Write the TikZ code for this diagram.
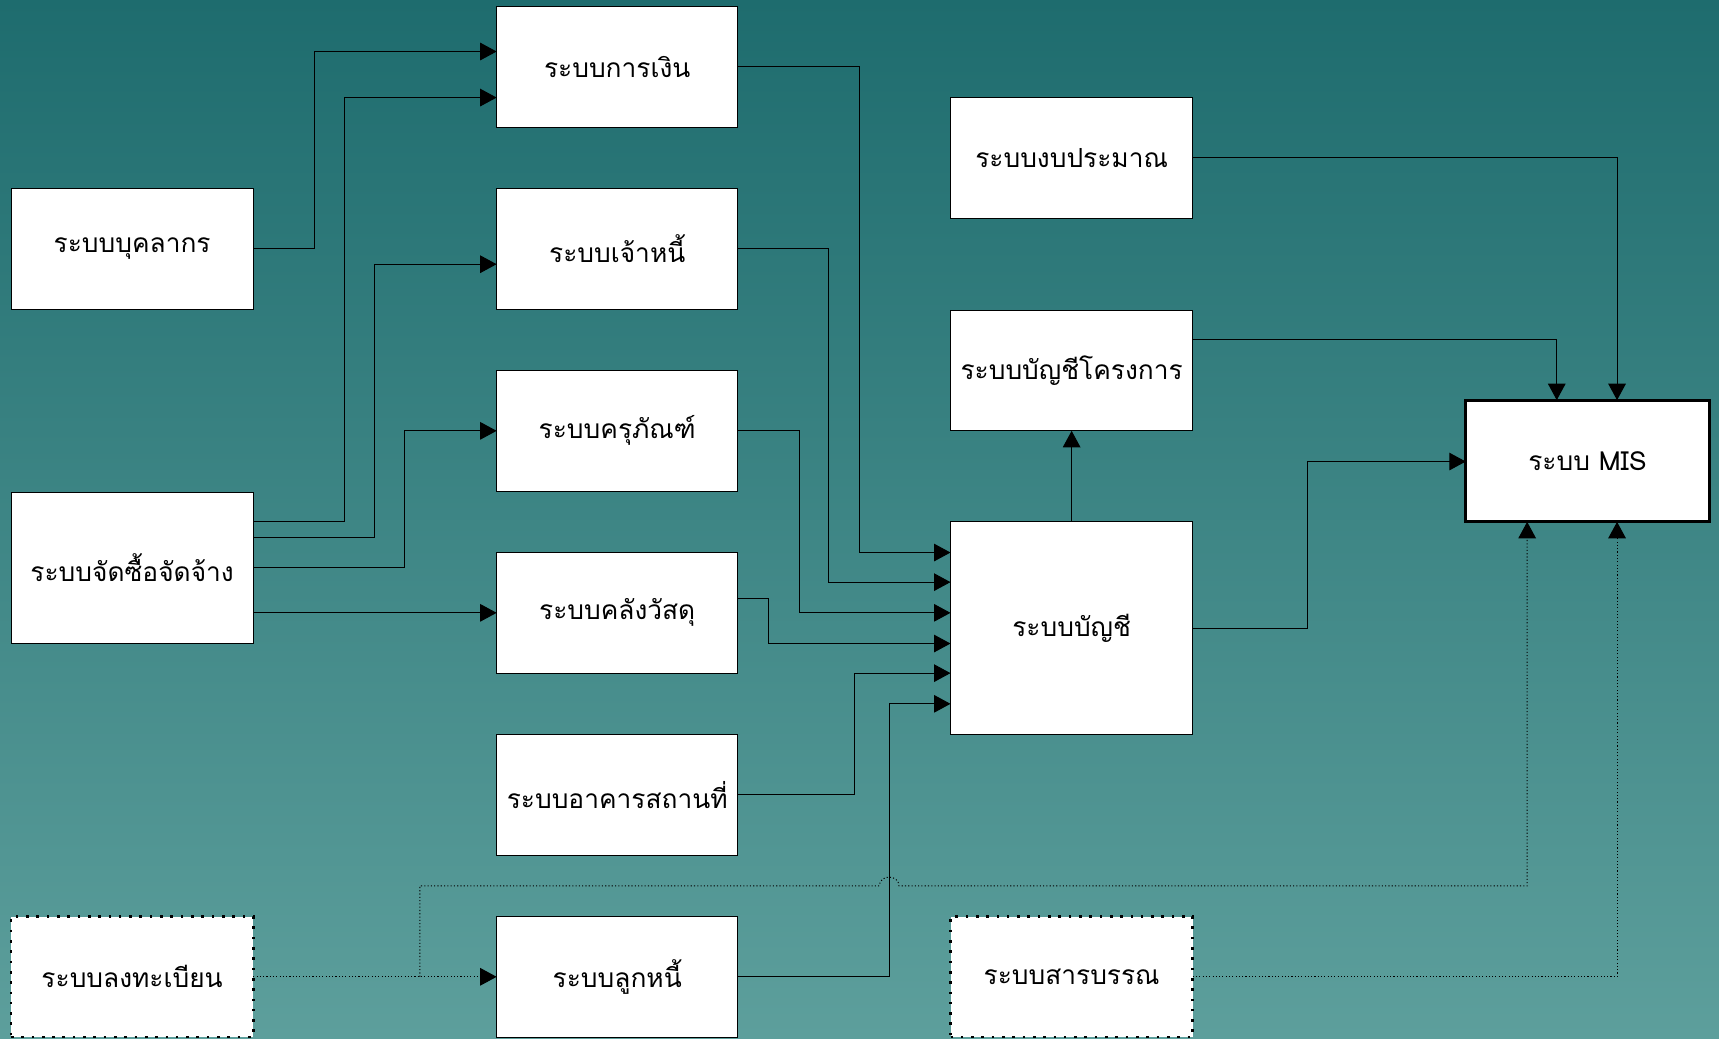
\documentclass[tikz,border=0pt]{standalone}
\usepackage{fontspec}
\newfontfamily\thaifont[Script=Thai]{Loma}
\usetikzlibrary{arrows.meta,positioning}
\definecolor{bgtop}{RGB}{30,108,110}
\definecolor{bgbottom}{RGB}{93,159,156}

\begin{document}
\begin{tikzpicture}[x=1pt, y=-1pt,
        every node/.style={font=\thaifont\fontsize{24}{28}\selectfont},
        sysbox/.style={draw, fill=white, line width=0.8pt, inner sep=0pt, outer sep=0pt,
                       minimum width=220pt, minimum height=110pt},
        extbox/.style={sysbox, line width=2.4pt, dash pattern=on 2.4pt off 7pt},
        misbox/.style={sysbox, line width=2.6pt},
        link/.style={line width=0.9pt, -{Triangle[length=15pt, width=16pt]}},
        weaklink/.style={link, dash pattern=on 1pt off 2pt}]
        \useasboundingbox (0,0) rectangle (1568,947);
        \fill [top color=bgtop, bottom color=bgbottom] (0,0) rectangle (1568,947);

        \node [sysbox] (fin) at (563,61) {ระบบการเงิน};
        \node [sysbox, below=56pt of fin] (ap) {ระบบเจ้าหนี้};
        \node [sysbox, below=56pt of ap] (asset) {ระบบครุภัณฑ์};
        \node [sysbox, below=56pt of asset] (stock) {ระบบคลังวัสดุ};
        \node [sysbox, below=56pt of stock] (bldg) {ระบบอาคารสถานที่};
        \node [sysbox, below=56pt of bldg] (ar) {ระบบลูกหนี้};

        \node [sysbox, minimum width=221pt] (hr) at (120.5,227) {ระบบบุคลากร};
        \node [sysbox, minimum width=221pt, minimum height=138pt] (proc) at (120.5,518) {ระบบจัดซื้อจัดจ้าง};
        \node [extbox, minimum width=221pt] (reg) at (120.5,891) {ระบบลงทะเบียน};

        \node [sysbox, minimum width=221pt] (budget) at (977.5,144) {ระบบงบประมาณ};
        \node [sysbox, minimum width=221pt, below=84pt of budget] (proj) {ระบบบัญชีโครงการ};
        \node [sysbox, minimum width=221pt, minimum height=194pt] (acc) at (977.5,573) {ระบบบัญชี};
        \node [extbox, minimum width=221pt] (doc) at (977.5,891) {ระบบสารบรรณ};

        \node [misbox, minimum width=222pt, minimum height=111pt] (mis) at (1448,420.5) {ระบบ MIS};

        \draw [link] (hr.east) -| (287,47) -- (fin.west |- 0,47);
        \draw [link] (proc.east |- 0,476) -| (314,89) -- (fin.west |- 0,89);
        \draw [link] (proc.east |- 0,490) -| (342,241) -- (ap.west |- 0,241);
        \draw [link] (proc.east |- 0,518) -| (369,393) -- (asset.west);
        \draw [link] (proc.east |- 0,559) -- (stock.west);

        \draw [link] (fin.east) -| (784,504) -- (acc.west |- 0,504);
        \draw [link] (ap.east) -| (756,531) -- (acc.west |- 0,531);
        \draw [link] (asset.east) -| (729,559) -- (acc.west |- 0,559);
        \draw [link] (stock.east |- 0,546) -| (701,587) -- (acc.west |- 0,587);
        \draw [link] (bldg.east) -| (779,614) -- (acc.west |- 0,614);
        \draw [link] (ar.east) -| (811,642) -- (acc.west |- 0,642);

        \draw [link] (acc.north) -- (proj.south);
        \draw [link] (acc.east) -| (1193,421) -- (mis.west |- 0,421);
        \draw [link] (budget.east) -| (mis.north -| 1475,0);
        \draw [link] (proj.east |- 0,310) -| (mis.north -| 1420,0);

        \coordinate (tap) at (reg.east -| 383,0);
        \draw [weaklink] (reg.east) -- (ar.west);
        \draw [weaklink] (tap) |- (802,808)
                arc [start angle=180, end angle=360, x radius=9, y radius=8]
                -| (mis.south -| 1393,0);
        \draw [weaklink] (doc.east) -| (mis.south -| 1475,0);
\end{tikzpicture}
\end{document}
